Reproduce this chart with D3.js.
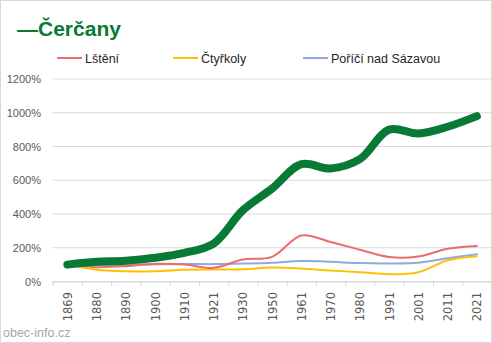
<!DOCTYPE html>
<html>
<head>
<meta charset="utf-8">
<title>Čerčany</title>
<script src="https://d3js.org/d3.v7.min.js"></script>
<style>
  html, body { margin:0; padding:0; background:white; }
  svg { display:block; font-family: "Liberation Sans", Arial, sans-serif; }
</style>
</head>
<body>
<svg id="chart" width="492" height="343"></svg>
<script>
  // census years and population relative to 1869 (%)
  var years = ["1869","1880","1890","1900","1910","1921","1930","1950","1961","1970","1980","1991","2001","2011","2021"];
  var cercany = [100,117,123,141,170,225,422,551,695,670,725,900,877,917,980];
  var lsteni  = [100,85,91,105,101,81,130,146,273,234,188,145,148,194,210];
  var ctyrkoly = [100,70,61,61,69,71,72,83,77,65,55,43,55,125,150];
  var porici  = [100,98,97,102,104,103,106,111,121,117,109,107,111,138,162];
  var yTicks = [0,200,400,600,800,1000,1200];

  var svg = d3.select("#chart");
  var margin = {left: 52.7, right: 491.5, top: 79, bottom: 281.5};

  svg.append("rect").attr("x",0.5).attr("y",0.5).attr("width",491).attr("height",342)
    .attr("fill","white").attr("stroke","#d9d9d9");

  var x = d3.scaleBand().domain(years).range([margin.left, margin.right]);
  var y = d3.scaleLinear().domain([0,1200]).range([margin.bottom, margin.top]);

  // gridlines + y labels
  svg.append("g").selectAll("line").data(yTicks).enter().append("line")
    .attr("x1", margin.left).attr("x2", margin.right)
    .attr("y1", function(d){ return y(d); }).attr("y2", function(d){ return y(d); })
    .attr("stroke", "#d9d9d9").attr("stroke-width", 1);
  svg.append("g").selectAll("text").data(yTicks).enter().append("text")
    .attr("x", 41).attr("y", function(d){ return y(d) + 4; })
    .attr("text-anchor","end").attr("fill","#595959").style("font-size","11px")
    .text(function(d){ return d + "%"; });

  // x axis
  var xAxis = d3.axisBottom(x).tickSize(5).tickFormat("");
  var ax = svg.append("g").attr("transform","translate(0," + margin.bottom + ")").call(xAxis);
  ax.select(".domain").attr("stroke","#d9d9d9").attr("d","M" + margin.left + ",0.5H" + margin.right);
  ax.selectAll(".tick").attr("transform", function(d){ return "translate(" + (x(d) + 0.5) + ",0)"; });
  ax.selectAll(".tick line").attr("stroke","#d9d9d9");
  svg.append("g").selectAll("text").data(years).enter().append("text")
    .attr("transform", function(d){ return "translate(" + (x(d) + x.bandwidth()/2 + 4.5) + ",292) rotate(-90)"; })
    .attr("text-anchor","end").attr("fill","#595959")
    .style("font-family","'DejaVu Sans', sans-serif").style("font-size","11.5px")
    .text(function(d){ return d; });

  var line = d3.line()
    .x(function(d,i){ return x(years[i]) + x.bandwidth()/2; })
    .y(function(d){ return y(d); })
    .curve(d3.curveCatmullRom.alpha(0.5));

  var series = [
    {name: "Poříčí nad Sázavou", values: porici, color: "#8faadc", width: 2},
    {name: "Čtyřkoly", values: ctyrkoly, color: "#ffc000", width: 2},
    {name: "Lštění", values: lsteni, color: "#ec6b6e", width: 2},
    {name: "Čerčany", values: cercany, color: "#087a36", width: 8}
  ];
  svg.append("g").selectAll("path").data(series).enter().append("path")
    .attr("d", function(d){ return line(d.values); })
    .attr("fill","none").attr("stroke", function(d){ return d.color; })
    .attr("stroke-width", function(d){ return d.width; })
    .attr("stroke-linecap","round").attr("stroke-linejoin","round");

  // title
  svg.append("text").attr("x", 17).attr("y", 36)
    .attr("fill","#087a36").style("font-size","21px").style("font-weight","bold")
    .text("—Čerčany");

  // legend
  var legend = [
    {name: "Lštění", color: "#ec6b6e", x: 57},
    {name: "Čtyřkoly", color: "#ffc000", x: 173},
    {name: "Poříčí nad Sázavou", color: "#8faadc", x: 303}
  ];
  var lg = svg.append("g").selectAll("g").data(legend).enter().append("g")
    .attr("transform", function(d){ return "translate(" + d.x + ",58)"; });
  lg.append("line").attr("x1",0).attr("x2",25).attr("stroke", function(d){ return d.color; }).attr("stroke-width",2);
  lg.append("text").attr("x",28).attr("y",4.5).attr("fill","#262626").style("font-size","12.5px")
    .text(function(d){ return d.name; });

  svg.append("text").attr("x",3).attr("y",337).attr("fill","#a6a6a6").style("font-size","12.5px")
    .text("obec-info.cz");
</script>
</body>
</html>
